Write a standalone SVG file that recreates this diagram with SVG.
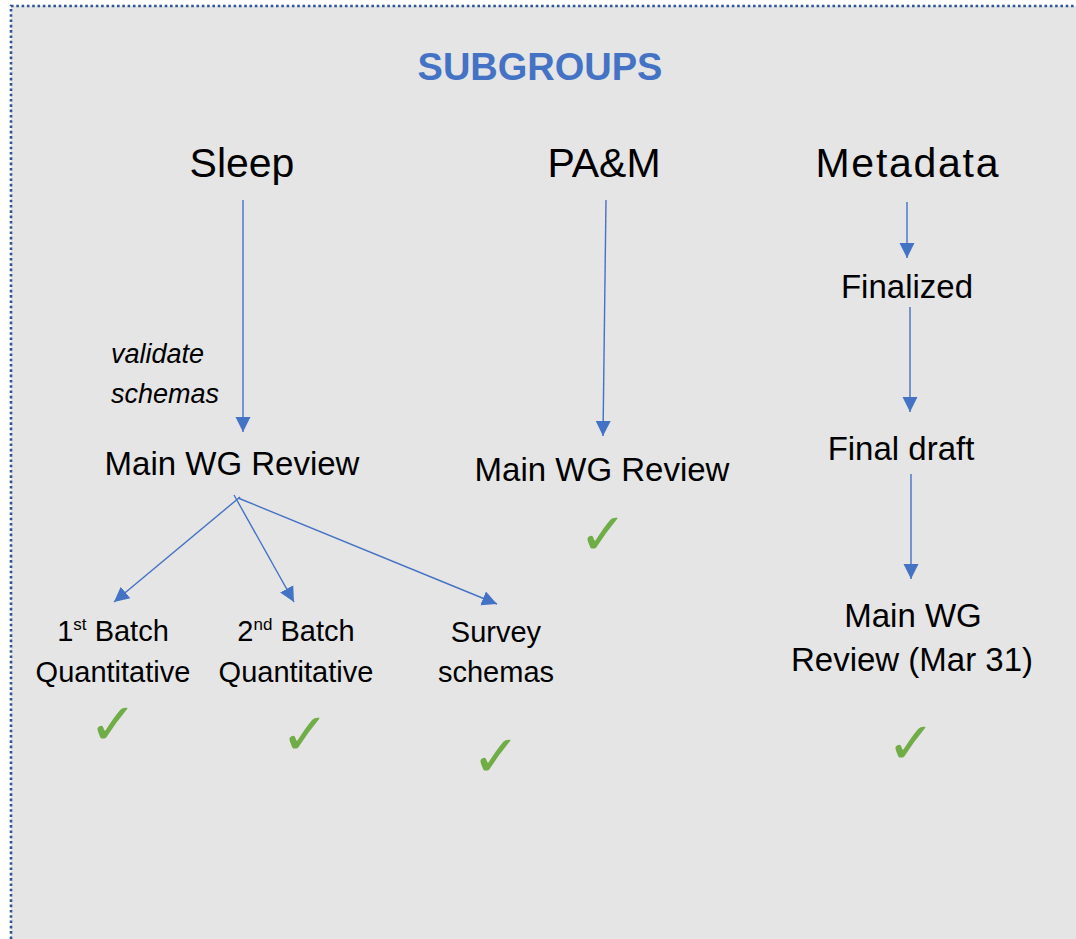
<svg xmlns="http://www.w3.org/2000/svg" width="1076" height="939" viewBox="0 0 1076 939">
  <defs>
    <marker id="ah" markerUnits="userSpaceOnUse" markerWidth="16" markerHeight="16" viewBox="0 0 16 16" refX="15" refY="8" orient="auto">
      <path d="M0,0.5 L15,8 L0,15.5 Z" fill="#4472c4"/>
    </marker>
    <style>
      .t { font-family: "Liberation Sans", Arial, sans-serif; fill: #000; text-anchor: middle; }
      .h { font-size: 41px; }
      .m { font-size: 33px; }
      .s { font-size: 29px; }
      .it { font-family: "Liberation Sans", Arial, sans-serif; font-style: italic; font-size: 27px; fill: #000; }
      .title { font-family: "Liberation Sans", Arial, sans-serif; font-weight: bold; font-size: 38px; fill: #4472c4; text-anchor: middle; }
      .ck { font-family: "DejaVu Sans", sans-serif; font-size: 58px; fill: #70ad47; text-anchor: middle; }
      .ln { stroke: #4472c4; stroke-width: 1.4; fill: none; marker-end: url(#ah); }
    </style>
  </defs>
  <rect x="0" y="0" width="1076" height="939" fill="#ffffff"/>
  <rect x="11" y="6" width="1080" height="950" fill="#e5e5e5" stroke="#2f5597" stroke-width="2.6" stroke-dasharray="2.6 2.7"/>

  <g id="title"><text class="title" x="540" y="80">SUBGROUPS</text></g>

  <g id="sleep"><text class="t h" x="242" y="177">Sleep</text></g>
  <g id="pam"><text class="t h" x="604" y="177">PA&amp;M</text></g>
  <g id="metadata"><text class="t h" x="907" y="177" textLength="183" lengthAdjust="spacing">Metadata</text></g>

  <g id="validate-label"><text class="it" x="111" y="363">validate</text><text class="it" x="111" y="403">schemas</text></g>

  <g id="sleep-review"><text class="t m" x="232" y="475">Main WG Review</text></g>
  <g id="pam-review"><text class="t m" x="602" y="481">Main WG Review</text></g>

  <g id="batch1"><text class="t s" x="113" y="641">1<tspan font-size="17" dy="-11">st</tspan><tspan dy="11"> Batch</tspan></text><text class="t s" x="113" y="682">Quantitative</text></g>
  <g id="batch2"><text class="t s" x="296" y="641">2<tspan font-size="17" dy="-11">nd</tspan><tspan dy="11"> Batch</tspan></text><text class="t s" x="296" y="682">Quantitative</text></g>
  <g id="survey"><text class="t s" x="496" y="642">Survey</text><text class="t s" x="496" y="682">schemas</text></g>

  <g id="finalized"><text class="t m" x="907" y="298">Finalized</text></g>
  <g id="final-draft"><text class="t m" x="901" y="460">Final draft</text></g>
  <g id="meta-review"><text class="t m" x="913" y="627">Main WG</text><text class="t m" x="912" y="671">Review (Mar 31)</text></g>

  <g id="checks">
    <text class="ck" x="113" y="744">✓</text>
    <text class="ck" x="305" y="754">✓</text>
    <text class="ck" x="496" y="776">✓</text>
    <text class="ck" x="603" y="554">✓</text>
    <text class="ck" x="911" y="763">✓</text>
  </g>

  <g id="connectors">
    <line class="ln" x1="243" y1="200" x2="243" y2="432"/>
    <line class="ln" x1="606" y1="200" x2="603" y2="436"/>
    <line class="ln" x1="907" y1="202" x2="907" y2="258"/>
    <line class="ln" x1="910" y1="307" x2="910" y2="412"/>
    <line class="ln" x1="911" y1="474" x2="911" y2="579"/>
    <line class="ln" x1="240" y1="497" x2="114" y2="602"/>
    <line class="ln" x1="234" y1="495" x2="294" y2="602"/>
    <line class="ln" x1="238" y1="498" x2="497" y2="604"/>
  </g>
</svg>
